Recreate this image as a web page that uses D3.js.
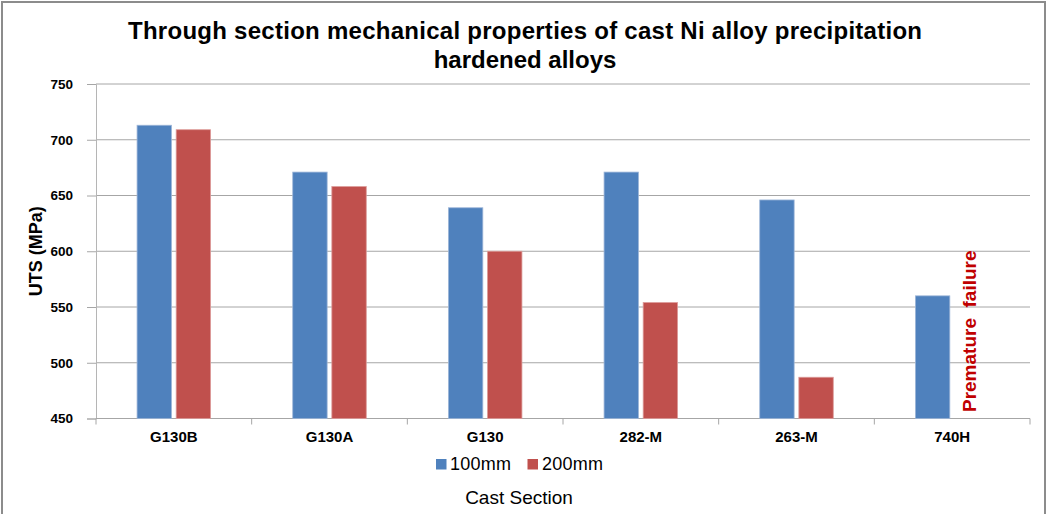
<!DOCTYPE html>
<html>
<head>
<meta charset="utf-8">
<script src="https://cdn.jsdelivr.net/npm/d3@7"></script>
<style>
  html, body { margin: 0; padding: 0; background: #fff; }
  svg { display: block; font-family: Arial, "Liberation Sans", sans-serif; }
</style>
</head>
<body>
<svg id="chart" width="1050" height="514"></svg>
<script>
// Cast sections along the x axis
const categories = ["G130B", "G130A", "G130", "282-M", "263-M", "740H"];
// Section thicknesses (series)
const series = ["100mm", "200mm"];
// Ultimate tensile strength (MPa) per section thickness
const uts100 = [713, 671, 639, 671, 646, 560];
const uts200 = [709, 658, 600, 554, 487, 450];
// Value axis ticks
const yTicks = [450, 500, 550, 600, 650, 700, 750];
const colors = { "100mm": "#4F81BD", "200mm": "#C0504D" };
const strokes = { "100mm": "#9db6d8", "200mm": "#dc9b99" };

const svg = d3.select("#chart");
const plot = { left: 96, right: 1030, top: 84, bottom: 418.5 };

// Outer chart border
svg.append("rect")
  .attr("x", 2).attr("y", 2)
  .attr("width", 1043).attr("height", 540)
  .attr("fill", "#fff")
  .attr("stroke", "#8c8c8c").attr("stroke-width", 2);

// Scales
const x0 = d3.scaleBand().domain(categories).range([plot.left, plot.right]).padding(0);
const x1 = d3.scaleBand().domain(series).range([0, x0.bandwidth()])
  .paddingInner(0.12).paddingOuter(1.05);
const y = d3.scaleLinear().domain([450, 750]).range([plot.bottom, plot.top]);

// Horizontal gridlines
svg.append("g")
  .selectAll("line")
  .data(yTicks.filter(d => d > 450))
  .join("line")
  .attr("x1", plot.left).attr("x2", plot.right)
  .attr("y1", d => y(d)).attr("y2", d => y(d))
  .attr("stroke", "#a6a6a6").attr("stroke-width", 1);

// Y axis
const yAxis = svg.append("g")
  .attr("transform", `translate(${plot.left},0)`)
  .call(d3.axisLeft(y).tickValues(yTicks).tickSize(9).tickPadding(14));
yAxis.select(".domain").attr("stroke", "#b5b5b5");
yAxis.selectAll(".tick line").attr("stroke", "#a6a6a6");
yAxis.selectAll(".tick text")
  .attr("font-size", 13.5).attr("font-weight", "bold")
  .attr("font-family", "Arial, 'Liberation Sans', sans-serif")
  .attr("fill", "#000");

// X axis with ticks at category boundaries
const xAxis = svg.append("g")
  .attr("transform", `translate(0,${plot.bottom})`);
xAxis.append("line")
  .attr("x1", plot.left).attr("x2", plot.right)
  .attr("stroke", "#a6a6a6");
const boundaries = categories.map(c => x0(c)).concat([plot.right]);
xAxis.selectAll("line.tk")
  .data(boundaries)
  .join("line")
  .attr("class", "tk")
  .attr("x1", d => d).attr("x2", d => d)
  .attr("y1", 0).attr("y2", 6)
  .attr("stroke", "#a6a6a6");
xAxis.selectAll("text")
  .data(categories)
  .join("text")
  .attr("x", d => x0(d) + x0.bandwidth() / 2)
  .attr("y", 23.5)
  .attr("text-anchor", "middle")
  .attr("font-size", 15).attr("font-weight", "bold")
  .attr("fill", "#000")
  .text(d => d);

// Bars
const rows = categories.map((c, i) => ({ cat: c, vals: [
  { s: "100mm", v: uts100[i] },
  { s: "200mm", v: uts200[i] }
]}));
svg.append("g")
  .selectAll("g")
  .data(rows)
  .join("g")
  .attr("transform", d => `translate(${x0(d.cat)},0)`)
  .selectAll("rect")
  .data(d => d.vals)
  .join("rect")
  .attr("x", d => x1(d.s))
  .attr("y", d => y(d.v))
  .attr("width", x1.bandwidth())
  .attr("height", d => y(450) - y(d.v))
  .attr("fill", d => colors[d.s])
  .attr("stroke", d => strokes[d.s])
  .attr("stroke-width", 0.8);

// Note on the failed 740H 200mm section
const noteX = x0("740H") + x1("200mm") + x1.bandwidth() / 2 + 4;
const noteY = (y(450) + y(750)) / 2 + 80;
svg.append("text")
  .attr("transform", `translate(${noteX},${noteY}) rotate(-90)`)
  .attr("text-anchor", "middle")
  .attr("font-size", 19).attr("font-weight", "bold")
  .attr("fill", "#C00000")
  .style("white-space", "pre")
  .text("Premature  failure");

// Y-axis title
svg.append("text")
  .attr("transform", `translate(41.5,${(plot.top + plot.bottom) / 2}) rotate(-90)`)
  .attr("text-anchor", "middle")
  .attr("font-size", 18).attr("font-weight", "bold")
  .attr("fill", "#000")
  .text("UTS (MPa)");

// Chart title
const title = svg.append("text")
  .attr("text-anchor", "middle")
  .attr("font-size", 24).attr("font-weight", "bold")
  .attr("fill", "#000");
title.append("tspan").attr("x", 525).attr("y", 38.5)
  .attr("textLength", 794).attr("lengthAdjust", "spacing")
  .text("Through section mechanical properties of cast Ni alloy precipitation");
title.append("tspan").attr("x", 525).attr("y", 68)
  .text("hardened alloys");

// Legend
const legend = svg.append("g");
const legendItems = [
  { s: "100mm", sx: 436, tx: 450 },
  { s: "200mm", sx: 527.5, tx: 542 }
];
legend.selectAll("rect")
  .data(legendItems)
  .join("rect")
  .attr("x", d => d.sx).attr("y", 459)
  .attr("width", 10.5).attr("height", 10.5)
  .attr("fill", d => colors[d.s]);
legend.selectAll("text")
  .data(legendItems)
  .join("text")
  .attr("x", d => d.tx).attr("y", 470)
  .attr("font-size", 18)
  .attr("textLength", 61).attr("lengthAdjust", "spacing")
  .attr("fill", "#000")
  .text(d => d.s);

// X-axis title
svg.append("text")
  .attr("x", 519).attr("y", 504)
  .attr("text-anchor", "middle")
  .attr("font-size", 19)
  .attr("fill", "#000")
  .text("Cast Section");
</script>
</body>
</html>
